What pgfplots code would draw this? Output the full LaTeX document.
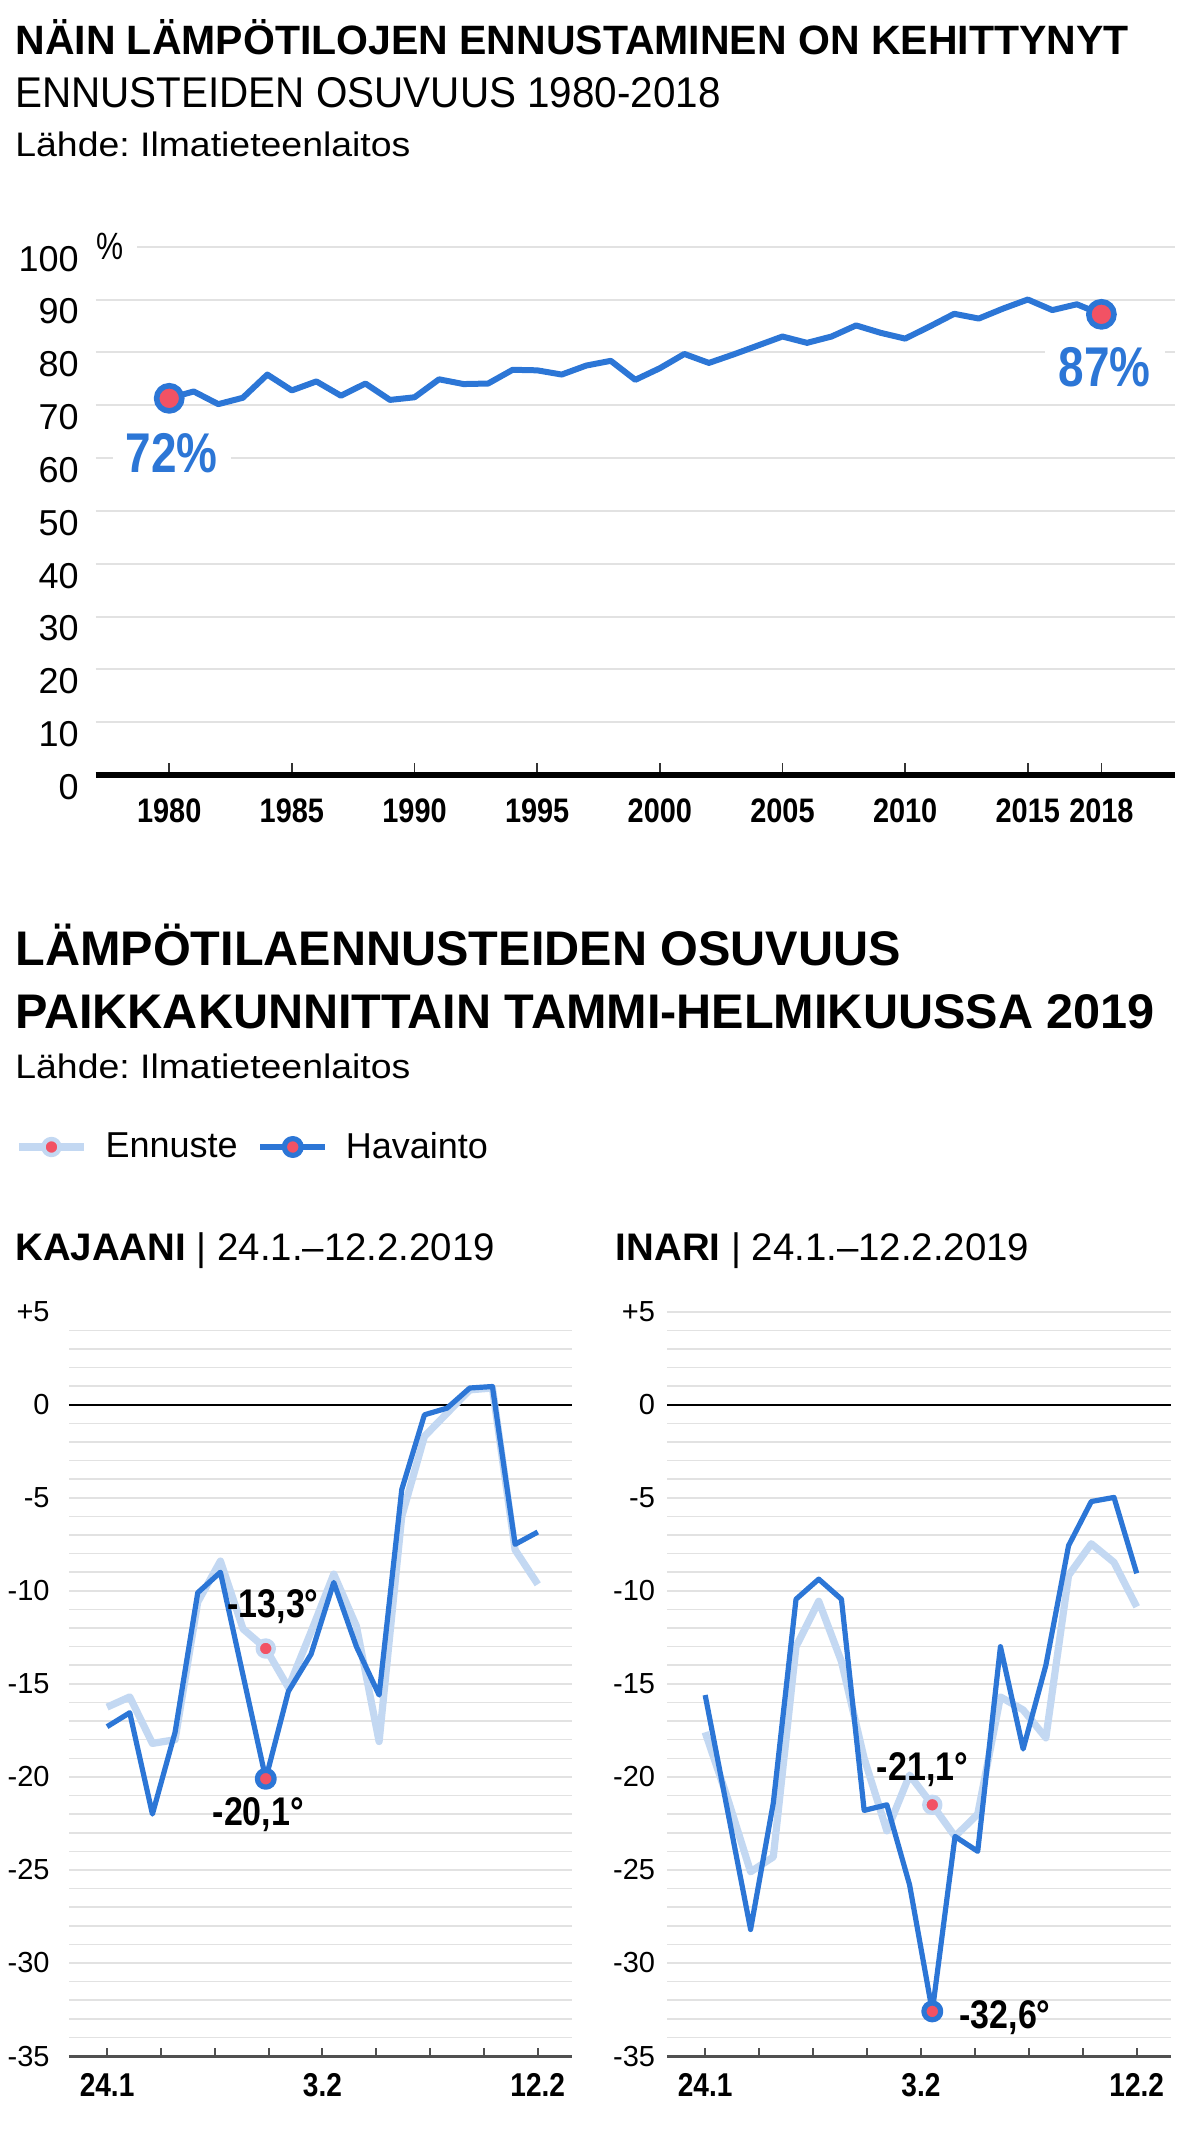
\documentclass[border=0pt]{standalone}
\usepackage{fontspec}
\usepackage{graphicx}
\usepackage{pgfplots}
\pgfplotsset{compat=1.18}
\setmainfont{Liberation Sans}
\newfontfamily\condfont{Liberation Sans}[FakeStretch=0.85]
\definecolor{blueC}{RGB}{44,118,214}
\definecolor{lightC}{RGB}{195,216,242}
\definecolor{redC}{RGB}{242,82,100}
\definecolor{gridC}{RGB}{226,226,226}
\definecolor{axisC}{RGB}{80,80,80}
\newcommand{\fs}[1]{\fontsize{#1}{#1}\selectfont}

\pgfplotstableread{
year val
1980 71.3
1981 72.6
1982 70.2
1983 71.4
1984 75.8
1985 72.8
1986 74.5
1987 71.8
1988 74.1
1989 71.0
1990 71.5
1991 74.9
1992 74.0
1993 74.1
1994 76.7
1995 76.6
1996 75.8
1997 77.5
1998 78.4
1999 74.8
2000 77.0
2001 79.7
2002 78.0
2003 79.6
2004 81.3
2005 83.0
2006 81.8
2007 83.0
2008 85.1
2009 83.7
2010 82.6
2011 84.9
2012 87.3
2013 86.4
2014 88.3
2015 90.0
2016 88.0
2017 89.1
2018 87.2
}\tblTop

\pgfplotstableread{
d ennuste havainto
0 -16.25 -17.3
1 -15.7 -16.55
2 -18.2 -22.0
3 -18.0 -17.6
4 -10.6 -10.1
5 -8.4 -9.0
6 -12.05 -14.55
7 -13.1 -20.1
8 -15.2 -15.4
9 -12.2 -13.4
10 -9.1 -9.55
11 -11.9 -13.0
12 -18.1 -15.6
13 -6.0 -4.55
14 -1.7 -0.54
15 -0.45 -0.18
16 0.8 0.9
17 0.9 0.98
18 -7.8 -7.5
19 -9.65 -6.84
}\tblKaj

\pgfplotstableread{
d ennuste havainto
0 -17.6 -15.6
1 -21.2 -21.9
2 -25.1 -28.2
3 -24.3 -21.4
4 -13.0 -10.45
5 -10.56 -9.37
6 -13.8 -10.45
7 -19.0 -21.8
8 -22.9 -21.5
9 -19.9 -25.8
10 -21.5 -32.6
11 -23.2 -23.2
12 -22.0 -24.0
13 -15.7 -13.0
14 -16.4 -18.5
15 -17.9 -14.0
16 -9.17 -7.57
17 -7.47 -5.2
18 -8.47 -4.98
19 -10.86 -9.06
}\tblIna

\pgfplotsset{
  lower/.style={
    scale only axis, height=372.15pt,
    xmin=-1.68, xmax=20.51, ymin=-35, ymax=5,
    axis x line*=bottom, axis y line*=left,
    y axis line style={draw=none},
    x axis line style={line width=1.5pt, axisC},
    xtick={0,2.375,4.75,7.125,9.5,11.875,14.25,16.625,19},
    xticklabels={24.1,,,,3.2,,,,12.2},
    xtick align=inside, major tick length=4.2pt,
    xtick style={line width=1pt, axisC},
    ytick={-35,-30,-25,-20,-15,-10,-5,0,5},
    yticklabels={-35,-30,-25,-20,-15,-10,-5,0,+5},
    ytick style={draw=none},
    yminorgrids, minor grid style={line width=0.8pt, gridC},
    xticklabel style={anchor=center, inner sep=0pt, yshift=-14.5pt, font=\condfont\bfseries\fs{16.5pt}},
    clip=false,
  },
  ennst/.style={lightC, line width=3.6pt, line join=round, mark=*, mark size=4pt,
    mark options={fill=redC, draw=lightC, line width=2.2pt}},
  havst/.style={blueC, line width=2.6pt, line join=round, mark=*, mark size=4.2pt,
    mark options={fill=redC, draw=blueC, line width=2.6pt}},
}

\begin{document}
\frenchspacing
\begin{tikzpicture}
\path[use as bounding box] (0,0) rectangle (599.5pt,-1065pt);

% ---------- top titles
\node[anchor=base west, inner sep=0] at (7.5pt,-27.5pt) {\fs{20.5pt}\bfseries NÄIN LÄMPÖTILOJEN ENNUSTAMINEN ON KEHITTYNYT};
\node[anchor=base west, inner sep=0] at (7.5pt,-54pt) {\fs{21.5pt}\scalebox{0.94}[1]{ENNUSTEIDEN OSUVUUS 1980-2018}};
\node[anchor=base west, inner sep=0] at (7.5pt,-78.3pt) {\fs{17pt}\scalebox{1.1}[1]{Lähde: Ilmatieteenlaitos}};

% ---------- top chart
\begin{axis}[
  at={(47.8pt,-387.5pt)}, anchor=south west,
  scale only axis, width=539.7pt, height=264.15pt,
  xmin=1977, xmax=2021, ymin=0, ymax=100,
  axis x line*=bottom, axis y line*=left,
  y axis line style={draw=none},
  x axis line style={line width=2.6pt, black},
  xtick={1980,1985,1990,1995,2000,2005,2010,2015,2018},
  xticklabels={1980,1985,1990,1995,2000,2005,2010,2015,2018},
  xtick align=inside, major tick length=6pt,
  xtick style={line width=0.8pt, black!80},
  ytick={0,10,20,30,40,50,60,70,80,90,100},
  yticklabels={0,10,20,30,40,50,60,70,80,90,100},
  ytick style={draw=none},
  ymajorgrids, major grid style={line width=1pt, gridC},
  yticklabel style={anchor=east, inner sep=0pt, xshift=-8.3pt, yshift=-6pt, font=\fs{18pt}},
  xticklabel style={anchor=center, inner sep=0pt, yshift=-18pt, font=\condfont\bfseries\fs{17pt}},
  clip=false,
]
\fill[white] (axis cs:1977,99.2) rectangle (axis cs:1978.69,100.8);
\node[inner sep=0pt] at (axis cs:1977.6,100) {\fs{19pt}\scalebox{0.8}[1]{\%}};
\node[fill=white, inner xsep=6.5pt, inner ysep=1pt, text=blueC] at (axis cs:1980.1,60.95) {\fs{28pt}\bfseries\scalebox{0.82}[1]{72\%}};
\node[fill=white, inner xsep=7pt, inner ysep=1pt, text=blueC] at (axis cs:2018.13,77.2) {\fs{28pt}\bfseries\scalebox{0.82}[1]{87\%}};
\addplot[blueC, line width=3pt, line join=round, mark=*, mark indices={1,39}, mark size=6.3pt,
  mark options={fill=redC, draw=blueC, line width=2.8pt}] table[x=year, y=val] {\tblTop};
\end{axis}

% ---------- lower titles
\node[anchor=base west, inner sep=0] at (7.5pt,-482.5pt) {\fs{24.3pt}\bfseries LÄMPÖTILAENNUSTEIDEN OSUVUUS};
\node[anchor=base west, inner sep=0] at (7.5pt,-514pt) {\fs{24.3pt}\bfseries PAIKKAKUNNITTAIN TAMMI-HELMIKUUSSA 2019};
\node[anchor=base west, inner sep=0] at (7.5pt,-539pt) {\fs{17pt}\scalebox{1.1}[1]{Lähde: Ilmatieteenlaitos}};
\node[anchor=base west, inner sep=0] at (7.5pt,-630pt) {\fs{19.2pt}\textbf{KAJAANI} | 24.1.–12.2.2019};
\node[anchor=base west, inner sep=0] at (307.75pt,-630pt) {\fs{19.2pt}\textbf{INARI} | 24.1.–12.2.2019};

% ---------- Kajaani
\begin{axis}[lower,
  at={(34.5pt,-1028pt)}, anchor=south west, width=251.5pt,
  minor ytick={-34,-33,...,4},
  yticklabel style={anchor=east, inner sep=0pt, xshift=-9.5pt, font=\fs{14.5pt}},
  legend style={at={(-0.1074,1.2213)}, anchor=west, draw=none, fill=none, inner sep=0pt,
    font=\fs{18pt}, nodes={inner sep=0pt},
    /tikz/every odd column/.append style={column sep=9pt},
    /tikz/every even column/.append style={column sep=10pt}},
  legend columns=2, legend cell align=left,
  legend image code/.code={\draw[#1, mark indices={2}] plot coordinates {(0pt,0pt) (16.25pt,0pt) (32.5pt,0pt)};},
]
\draw[black, line width=0.9pt] (axis cs:-1.68,0) -- (axis cs:20.51,0);
\addplot[ennst, mark indices={8}] table[x=d, y=ennuste] {\tblKaj};
\addlegendentry{Ennuste}
\addplot[havst, mark indices={8}] table[x=d, y=havainto] {\tblKaj};
\addlegendentry{Havainto}
\node at (axis cs:7.32,-10.85) {\fs{20pt}\bfseries\scalebox{0.85}[1]{-13,3°}};
\node at (axis cs:6.67,-22.03) {\fs{20pt}\bfseries\scalebox{0.85}[1]{-20,1°}};
\end{axis}

% ---------- Inari
\begin{axis}[lower,
  at={(333.5pt,-1028pt)}, anchor=south west, width=252pt,
  minor ytick={-34,-33,...,5},
  yticklabel style={anchor=east, inner sep=0pt, xshift=-5.8pt, font=\fs{14.5pt}},
]
\draw[black, line width=0.9pt] (axis cs:-1.68,0) -- (axis cs:20.51,0);
\addplot[ennst, mark indices={11}] table[x=d, y=ennuste] {\tblIna};
\addplot[havst, mark indices={11}] table[x=d, y=havainto] {\tblIna};
\node at (axis cs:9.57,-19.61) {\fs{20pt}\bfseries\scalebox{0.85}[1]{-21,1°}};
\node at (axis cs:13.2,-32.94) {\fs{20pt}\bfseries\scalebox{0.85}[1]{-32,6°}};
\end{axis}
\end{tikzpicture}
\end{document}
